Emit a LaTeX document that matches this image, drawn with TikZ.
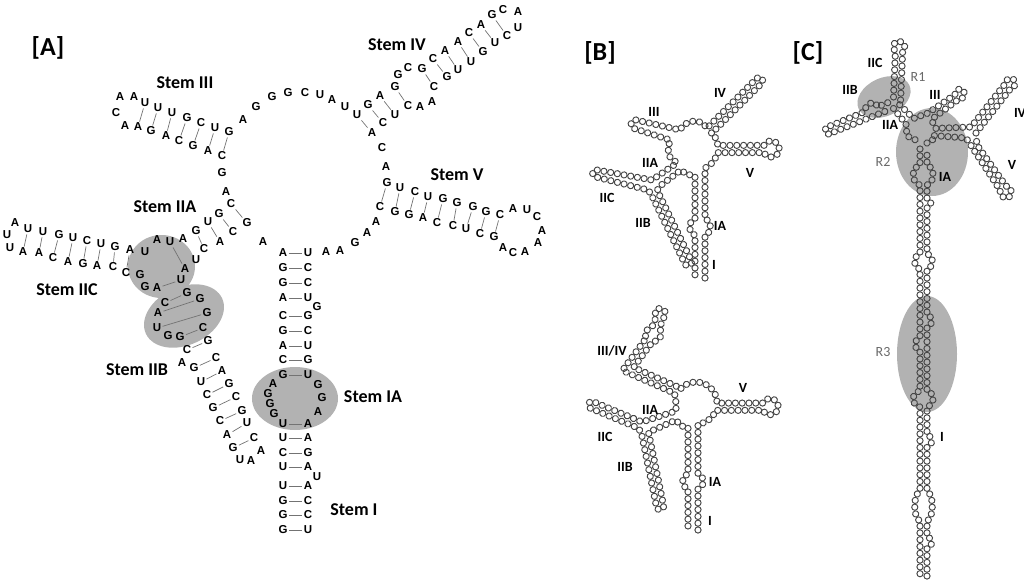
\documentclass[tikz,border=0pt]{standalone}
\usepackage{fontspec}
\usepackage{tikz}
\usetikzlibrary{decorations.markings}
\newfontfamily\nucfont{Liberation Sans}
\newfontfamily\lblfont{Carlito}
\definecolor{hlgray}{RGB}{178,178,178}
\definecolor{ringgray}{RGB}{70,70,70}
\definecolor{rgrey}{RGB}{105,105,105}

\begin{document}
\begin{tikzpicture}[x=1pt,y=-1pt,shift={(-512,-290)},
  nt/.style={font=\nucfont\bfseries\fontsize{11.5}{12}\selectfont, inner sep=1.2pt},
  bp/.style={draw=black!55, line width=0.7pt},
  stemlabel/.style={font=\lblfont\bfseries\fontsize{18}{20}\selectfont},
  panel/.style={font=\lblfont\bfseries\fontsize{26}{28}\selectfont},
  sublabel/.style={font=\lblfont\bfseries\fontsize{14}{15}\selectfont},
  reglabel/.style={font=\lblfont\fontsize{14}{15}\selectfont, text=rgrey},
  beads/.style={decorate, decoration={markings,
    mark=between positions 0 and 1 step 6.8pt with {\draw[ringgray, line width=0.95pt] (0,0) circle (3.1pt);}}}
]
\useasboundingbox (0,0) rectangle (1024,581);

% highlighted regions
\fill[hlgray] (161.5,266.5) ellipse[x radius=33.5, y radius=31.5];
\fill[hlgray, rotate around={25:(184,316)}] (184,316) ellipse[x radius=42, y radius=29];
\fill[hlgray] (295,398.5) ellipse[x radius=43, y radius=31.5];
\fill[hlgray, rotate around={25:(884,97)}] (884,97) ellipse[x radius=28, y radius=19];
\fill[hlgray] (932,152) ellipse[x radius=36, y radius=44];
\fill[hlgray] (927,354) ellipse[x radius=30, y radius=58];

% [A] sequence
\foreach \x/\y/\b [count=\i] in {120/97/A,134/97/A,145/103/U,158/108/U,172/113/U,187/118/G,201/123/C,215/128/U,229/132/G}
  \node[nt] (s3u\i) at (\x,\y) {\b};
\foreach \x/\y/\b [count=\i] in {116/113/C,125/126/A,138/127/A,151/131/G,166/136/A,179/141/C,193/146/G,208/151/A,222/156/C}
  \node[nt] (s3l\i) at (\x,\y) {\b};
\foreach \i in {3,...,9} \draw[bp] (s3u\i) -- (s3l\i);

\foreach \x/\y/\b [count=\i] in {222/173/G,226/192/A,263/242/A}
  \node[nt] (jn\i) at (\x,\y) {\b};
\foreach \x/\y/\b [count=\i] in {243/120/A,256/107/G,272/97/G,288/93/G,305/93/C,320/95/U,332/100/A,345/107/U}
  \node[nt] (lp\i) at (\x,\y) {\b};

\foreach \x/\y/\b [count=\i] in {357/115/U,368/105/G,380/96/A,395/87/G,398/75/G,408/68/C,422/69/G,433/59/C,445/51/A,458/42/A,469/33/C,481/25/A,492/15/G,503/10/C,518/12/A}
  \node[nt] (s4u\i) at (\x,\y) {\b};
\foreach \x/\y/\b [count=\i] in {518/28/U,507/36/C,495/43/U,483/52/G,471/62/U,458/70/U,447/77/G,434/87/C,432/102/A,420/107/A,408/106/C,395/115/U,383/123/C,372/133/A}
  \node[nt] (s4l\i) at (\x,\y) {\b};
\foreach \a/\b in {1/14,2/13,3/12,4/11,7/8,8/7,9/6,10/5,11/4,12/3,13/2} \draw[bp] (s4u\a) -- (s4l\b);

\foreach \x/\y/\b [count=\i] in {382/148/C,386/167/A}
  \node[nt] (lv\i) at (\x,\y) {\b};
\foreach \x/\y/\b [count=\i] in {387/183/G,400/188/U,415/192/C,428/197/U,443/199/G,457/203/G,473/207/G,486/212/G,500/215/C,513/209/A,527/210/U,537/217/C,542/231/A,538/243/A,525/252/A,513/253/C,503/248/A}
  \node[nt] (s5u\i) at (\x,\y) {\b};
\foreach \x/\y/\b [count=\i] in {494/237/G,480/234/C,466/229/U,453/226/C,437/223/C,423/218/A,409/215/G,395/212/G,380/207/C}
  \node[nt] (s5l\i) at (\x,\y) {\b};
\foreach \a/\b in {1/9,2/8,3/7,4/6,5/5,6/4,7/3,8/2,9/1} \draw[bp] (s5u\a) -- (s5l\b);
\foreach \x/\y/\b [count=\i] in {376/222/A,367/233/A,355/243/G,340/251/A,326/252/A}
  \node[nt] (lr\i) at (\x,\y) {\b};

\foreach \x/\y/\b [count=\i] in {283/253/A,283/268/G,283/283/G,283/298/A,283/316/C,283/331/G,283/346/A,283/360/C,283/375/G,273/384/A,268/394/G,270/404/G,274/414/G,283/424/U,283/438/U,283/453/C,283/467/U,283/486/U,283/501/G,283/515/G,283/530/G}
  \node[nt] (s1l\i) at (\x,\y) {\b};
\foreach \x/\y/\b [count=\i] in {308/253/U,308/268/C,308/283/C,308/298/U,317/307/G,308/316/G,308/331/C,308/346/U,308/360/G,308/375/U,318/385/G,322/398/G,318/412/A,308/424/A,308/438/A,308/453/G,308/467/A,317/477/U,308/486/A,308/501/C,308/515/C,308/530/U}
  \node[nt] (s1r\i) at (\x,\y) {\b};
\foreach \a/\b in {1/1,2/2,3/3,4/4,5/6,6/7,7/8,8/9,9/10,14/14,15/15,16/16,17/17,18/19,19/20,20/21,21/22} \draw[bp] (s1l\a) -- (s1r\b);

\foreach \x/\y/\b [count=\i] in {231/204/C,219/214/G,208/222/U,196/231/G,183/239/A,170/242/U,157/240/A,145/252/U}
  \node[nt] (s2au\i) at (\x,\y) {\b};
\foreach \x/\y/\b [count=\i] in {181/280/U,185/269/A,196/260/U,204/249/C,220/242/A,233/232/C,247/223/G}
  \node[nt] (s2ad\i) at (\x,\y) {\b};
\foreach \a/\b in {1/7,2/6,3/5,4/4,6/2} \draw[bp] (s2au\a) -- (s2ad\b);

\foreach \x/\y/\b [count=\i] in {130/250/A,115/247/G,101/244/U,87/241/C,73/238/U,59/235/G,43/232/U,28/229/U,15/223/A,7/235/U,10/248/U}
  \node[nt] (s2cu\i) at (\x,\y) {\b};
\foreach \x/\y/\b [count=\i] in {23/252/A,39/253/A,53/258/C,68/262/A,83/264/G,97/266/A,113/267/C,126/273/C,140/275/G,145/287/G,157/288/A}
  \node[nt] (s2cl\i) at (\x,\y) {\b};
\foreach \a/\b in {8/1,7/2,6/3,5/4,4/5,3/6,2/7,1/8} \draw[bp] (s2cu\a) -- (s2cl\b);
\draw[bp] (s2cl11) -- (s2ad1);

\foreach \x/\y/\b [count=\i] in {165/303/C,158/313/A,157/328/U,168/336/G,180/337/G,187/350/C,182/363/A,194/368/G,201/382/U,207/395/C,213/408/G,220/421/C,227/435/A,233/448/G,240/460/U,251/461/A,261/451/A}
  \node[nt] (s2bl\i) at (\x,\y) {\b};
\foreach \x/\y/\b [count=\i] in {254/438/C,247/423/U,242/411/G,236/397/C,229/384/G,222/371/A,216/358/C,208/341/G,203/328/C,207/313/G,200/299/G,187/293/G}
  \node[nt] (s2br\i) at (\x,\y) {\b};
\foreach \a/\b in {1/12,2/11,3/10,5/9,6/8,8/7,9/6,10/5,11/4,12/3,13/2,14/1} \draw[bp] (s2bl\a) -- (s2br\b);

\node[panel] (pA) at (48,48) {[A]};
\node[stemlabel] (lIII) at (185,83) {Stem III};
\node[stemlabel] (lIV) at (397,45) {Stem IV};
\node[stemlabel] (lV) at (457,175) {Stem V};
\node[stemlabel] (lIIA) at (165,207) {Stem IIA};
\node[stemlabel] (lIIC) at (67,290) {Stem IIC};
\node[stemlabel] (lIIB) at (137,370) {Stem IIB};
\node[stemlabel] (lIA) at (373,397) {Stem IA};
\node[stemlabel] (lI) at (354,510) {Stem I};

% [B] upper fold
\path[beads] (705,278) -- (705,235) .. controls (712,233) and (712,221) .. (705,219) -- (705,168)
  arc[start angle=65, end angle=12, radius=22] -- (764,152.6)
  arc[start angle=-207, end angle=-513, radius=8] -- (717.8,145.4)
  arc[start angle=-7, end angle=-45, radius=22] -- (711.5,133.5) -- (760.5,84.5)
  .. controls (765.5,79.5) and (760.5,74.5) .. (755.5,79.5) -- (706.5,128.5)
  .. controls (703,119) and (687,118) .. (680,130) -- (636,120)
  .. controls (631,119) and (629,127) .. (634,128.5) -- (670,140) -- (668,149) -- (670,157) -- (677,163)
  -- (652,180) -- (597,170) .. controls (592,169) and (591,176) .. (596,177) -- (648,190)
  -- (650.8,193.6) -- (684.8,263.6) .. controls (686.9,267.9) and (693.3,264.7) .. (691.2,260.4)
  -- (657.2,190.4) -- (660,186) -- (681,170) -- (686,174) -- (695,176) -- (695,219)
  .. controls (688,221) and (688,233) .. (695,235) -- (695,278);
\node[panel] (pB) at (600,53) {[B]};
\node[sublabel] (bIV) at (720,93) {IV};
\node[sublabel] (bIII) at (654,112) {III};
\node[sublabel] (bIIA) at (650,163) {IIA};
\node[sublabel] (bV) at (750,173) {V};
\node[sublabel] (bIIC) at (607,198) {IIC};
\node[sublabel] (bIIB) at (643,223) {IIB};
\node[sublabel] (bIA) at (720,226) {IA};
\node[sublabel] (bI) at (714,265) {I};

% [B] lower fold
\path[beads] (698,530) -- (698,489) .. controls (705,486) and (705,477) .. (698,474) -- (698,424)
  arc[start angle=84.5, end angle=20.3, radius=21] -- (763,410.3)
  arc[start angle=-207, end angle=-513, radius=8] -- (717,403.1)
  arc[start angle=0, end angle=-140, radius=21] -- (677.4,386.7) -- (633.6,367.5) -- (652.9,341.2)
  .. controls (660,342) and (663,334) .. (659.5,328) -- (663.5,318)
  .. controls (672,308) and (650,304) .. (656.5,316) -- (652.5,326)
  .. controls (645,330) and (643,336) .. (647.1,336.8) -- (622.4,370.5) -- (674.6,393.3)
  -- (676,403) -- (676,411) -- (642,422) -- (593.4,401.7)
  .. controls (589,399.9) and (586.2,406.5) .. (590.6,408.3) -- (638.6,428.3) -- (641.5,433.7)
  -- (656.5,506.7) .. controls (657.4,511.4) and (664.4,510) .. (663.5,505.3) -- (648.5,432.3)
  -- (676,420) -- (681,426) -- (688,427) -- (688,474)
  .. controls (681,477) and (681,486) .. (688,489) -- (688,530);
\node[sublabel] (cIIIIV) at (612,351) {III/IV};
\node[sublabel] (cV) at (743,388) {V};
\node[sublabel] (cIIA) at (650,410) {IIA};
\node[sublabel] (cIIC) at (605,437) {IIC};
\node[sublabel] (cIIB) at (625,467) {IIB};
\node[sublabel] (cIA) at (715,482) {IA};
\node[sublabel] (cI) at (710,521) {I};

% [C] stem I, right strand
\path[beads] (927,576) -- (927,548) .. controls (933,547) and (933,538) .. (927,537) -- (927,521)
  .. controls (934,517) and (934,495) .. (927,491) -- (927,447) .. controls (933,446) and (933,436) .. (927,435)
  -- (927,407) .. controls (935,404) and (935,393) .. (927,391) -- (927,327)
  .. controls (933,326) and (933,316) .. (927,315) -- (927,269) .. controls (934,267) and (934,256) .. (927,254)
  -- (927,208) .. controls (932,207) and (932,200) .. (927,199) -- (927,185)
  .. controls (935,182) and (935,168) .. (927,165) -- (927,149);
% [C] branches
\path[beads] (927,143) -- (932,141) -- (934.4,135.6);
\path[beads] (934.4,135.6) -- (966,138) -- (970,144) -- (1000,190) -- (1000.5,194.9) -- (1004.4,197.9)
  -- (1009.1,197) -- (1011.6,192.8) -- (1010.3,188.1) -- (1006,186) -- (977,145) -- (976,136);
\path[beads] (976,133) -- (1010.7,88.4) -- (1014.1,86.6) -- (1015.3,83) -- (1013.5,79.6) -- (1009.9,78.4)
  -- (1006.5,80.2) -- (1005.3,83.6) -- (971,127) -- (936,128.4);
\path[beads] (936,128.4) -- (933,123) -- (931.7,119.3) -- (959.1,98.9) -- (963,97.8) -- (964.8,94.1)
  -- (963.3,90.4) -- (959.5,89) -- (955.9,90.8) -- (954.9,94.7) -- (927.9,113.1) -- (913.5,118.5) -- (898.5,103.5);
\path[beads] (900.6,100) -- (902.6,52) -- (905.1,47.8) -- (903.6,43.2) -- (899.2,41.1) -- (894.7,43)
  -- (893.1,47.5) -- (895.4,51.8) -- (893.4,100);
\path[beads] (887.7,102.7) -- (877,107) .. controls (876,99) and (866,103) .. (864,112) -- (830.7,125.7)
  -- (826.9,126.3) -- (825,130.3) -- (826.4,133.3) -- (830.1,134.5) -- (833.3,132.3) -- (890.3,109.3);
\path[beads] (893.5,108.5) -- (906,124) -- (907,136) -- (920,142);
% [C] stem I, left strand
\path[beads] (920,149) -- (920,165) .. controls (911,168) and (911,182) .. (920,185) -- (920,254)
  .. controls (913,256) and (913,267) .. (920,269) -- (920,337) .. controls (914,339) and (914,350) .. (920,351)
  -- (920,391) .. controls (911,393) and (911,405) .. (920,407) -- (920,491)
  .. controls (913,495) and (913,517) .. (920,521) -- (920,576);
\node[panel] (pC) at (808,53) {[C]};
\node[sublabel] (dIIC) at (875,63) {IIC};
\node[reglabel] (dR1) at (918,77) {R1};
\node[sublabel] (dIIB) at (850,90) {IIB};
\node[sublabel] (dIII) at (935,95) {III};
\node[sublabel] (dIV) at (1020,113) {IV};
\node[sublabel] (dIIA) at (890,125) {IIA};
\node[reglabel] (dR2) at (883,162) {R2};
\node[sublabel] (dIA) at (945,177) {IA};
\node[sublabel] (dV) at (1012,165) {V};
\node[reglabel] (dR3) at (883,352) {R3};
\node[sublabel] (dI) at (942,437) {I};
\end{tikzpicture}
\end{document}
